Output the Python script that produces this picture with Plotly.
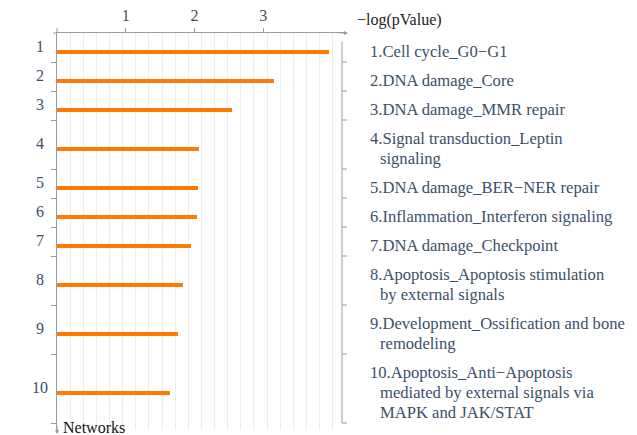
import plotly.graph_objects as go

# ---- data ----
ranks = ["1", "2", "3", "4", "5", "6", "7", "8", "9", "10"]
labels = [
    "1.Cell cycle_G0\u2212G1",
    "2.DNA damage_Core",
    "3.DNA damage_MMR repair",
    "4.Signal transduction_Leptin<br>signaling",
    "5.DNA damage_BER\u2212NER repair",
    "6.Inflammation_Interferon signaling",
    "7.DNA damage_Checkpoint",
    "8.Apoptosis_Apoptosis stimulation<br>by external signals",
    "9.Development_Ossification and bone<br>remodeling",
    "10.Apoptosis_Anti\u2212Apoptosis<br>mediated by external signals via<br>MAPK and JAK/STAT",
]
values = [3.96, 3.16, 2.55, 2.06, 2.05, 2.04, 1.95, 1.83, 1.76, 1.65]
x_ticks = [1, 2, 3]

# ---- styling ----
ORANGE = "#ff7a00"
TEXT = "#3b5068"
AXIS = "#9a9a9a"
GRID = "#ececec"
FONT = "Liberation Serif"

OFF = 8                     # default page body margin
W, H = 637 - OFF, 435 - OFF
PL, PT, PR, PB = 57, 33, 345, 430   # plot area in page pixels
L, T = PL - OFF, PT - OFF
R = W - (PR - OFF)
B = H - (PB - OFF)
PW, PH = PR - PL, PB - PT
ROW_PX = 29.0
LINE_PX = 20.0
LINE_EXTRA = LINE_PX / ROW_PX
BAR_OFFSET = 4.0 / ROW_PX

heights = [1 + LINE_EXTRA * lab.count("<br>") for lab in labels]
seps = [0.0]
for h in heights:
    seps.append(seps[-1] + h)
centers = [(seps[i] + seps[i + 1]) / 2 for i in range(len(labels))]
bar_y = [c + BAR_OFFSET for c in centers]
total = seps[-1]
y_max = PH / ROW_PX


def px_x(px):
    return (px - PL) / PW


def px_y(py):
    return (PB - py) / PH


fig = go.Figure()
fig.add_trace(go.Bar(
    x=values, y=bar_y, orientation="h", width=4.0 / ROW_PX,
    marker=dict(color=ORANGE, line=dict(width=0)),
    hoverinfo="x", showlegend=False,
))

annotations = []
for i, lab in enumerate(labels):
    lines = lab.split("<br>")
    n = len(lines)
    for j, ln in enumerate(lines):
        annotations.append(dict(
            x=px_x(368 if j == 0 else 378), xref="paper",
            y=bar_y[i] + (j - (n - 1) / 2) * LINE_EXTRA, yref="y",
            text=ln, xanchor="left", yanchor="middle", align="left",
            showarrow=False,
            font=dict(family=FONT, size=16.6, color=TEXT),
        ))
    annotations.append(dict(
        x=px_x(40), xref="paper", y=centers[i], yref="y", yshift=1,
        text=ranks[i], xanchor="center", yanchor="middle", showarrow=False,
        font=dict(family=FONT, size=16, color=TEXT),
    ))

annotations += [
    dict(x=px_x(355), xref="paper", y=px_y(20), yref="paper",
         text="\u2212log(pValue)", xanchor="left", yanchor="middle",
         showarrow=False, font=dict(family=FONT, size=16, color="#222222")),
    dict(x=px_x(61), xref="paper", y=px_y(427), yref="paper",
         text="Networks", xanchor="left", yanchor="middle",
         showarrow=False, font=dict(family=FONT, size=16, color="#111111")),
    dict(x=px_x(348), xref="paper", y=1, yref="paper", text="",
         showarrow=True, ax=-10, ay=0, arrowhead=2, arrowsize=0.8,
         arrowwidth=1, arrowcolor=AXIS),
    dict(x=0, xref="paper", y=px_y(434), yref="paper", text="",
         showarrow=True, ax=0, ay=-10, arrowhead=2, arrowsize=0.8,
         arrowwidth=1, arrowcolor=AXIS),
]

shapes = [
    dict(type="line", xref="paper", yref="paper", x0=px_x(53), x1=0,
         y0=1, y1=1, line=dict(color=AXIS, width=1)),
    dict(type="line", xref="paper", yref="paper", x0=0, x1=0,
         y0=1, y1=px_y(28), line=dict(color=AXIS, width=1)),
    dict(type="line", xref="paper", yref="paper", x0=px_x(342), x1=px_x(342),
         y0=px_y(41.5), y1=px_y(PT + total * ROW_PX), line=dict(color=AXIS, width=1)),
]
for s in seps[1:]:
    shapes.append(dict(type="line", xref="paper", yref="y",
                       x0=px_x(342), x1=px_x(347), y0=s, y1=s,
                       line=dict(color=AXIS, width=1)))

fig.update_layout(
    width=W, height=H, autosize=False,
    margin=dict(l=L, r=R, t=T, b=B, autoexpand=False),
    paper_bgcolor="white", plot_bgcolor="white",
    bargap=0, showlegend=False,
    annotations=annotations, shapes=shapes,
    xaxis=dict(
        side="top", range=[0, 4.19], tickmode="array", tickvals=x_ticks,
        ticktext=[str(v) for v in x_ticks], automargin=False,
        ticks="outside", ticklen=4, tickcolor=AXIS, tickwidth=1,
        ticklabelstandoff=1,
        showline=True, linecolor=AXIS, linewidth=1,
        showgrid=False, zeroline=False,
        tickfont=dict(family=FONT, size=16, color=TEXT),
        minor=dict(tick0=0, dtick=0.191, showgrid=True, gridcolor=GRID,
                   gridwidth=1, ticks=""),
        fixedrange=True,
    ),
    yaxis=dict(
        range=[y_max, 0], tickmode="array", tickvals=seps[1:], automargin=False,
        showticklabels=False, ticks="outside", ticklen=5, tickcolor=AXIS,
        showline=True, linecolor=AXIS, linewidth=1,
        showgrid=False, zeroline=False, fixedrange=True,
    ),
)

fig.write_html("out.html")
